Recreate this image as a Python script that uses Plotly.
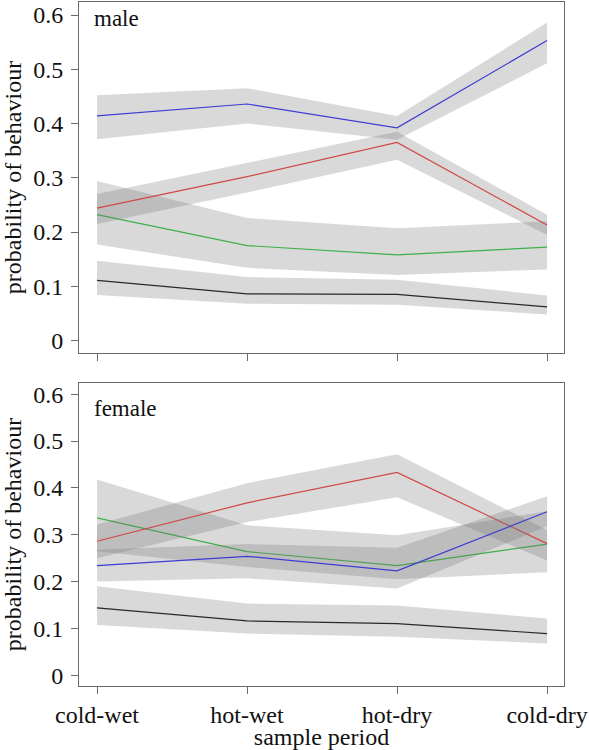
import plotly.graph_objects as go

periods = ["cold-wet", "hot-wet", "hot-dry", "cold-dry"]
y_ticks = [0, 0.1, 0.2, 0.3, 0.4, 0.5, 0.6]
y_tick_labels = ["0", "0.1", "0.2", "0.3", "0.4", "0.5", "0.6"]

# male panel
male_blue = [0.414, 0.436, 0.392, 0.553]
male_blue_hi = [0.452, 0.465, 0.414, 0.586]
male_blue_lo = [0.371, 0.400, 0.370, 0.511]
male_red = [0.244, 0.302, 0.365, 0.213]
male_red_hi = [0.270, 0.327, 0.385, 0.232]
male_red_lo = [0.215, 0.273, 0.333, 0.195]
male_green = [0.232, 0.175, 0.158, 0.172]
male_green_hi = [0.294, 0.226, 0.207, 0.220]
male_green_lo = [0.177, 0.134, 0.121, 0.131]
male_black = [0.111, 0.086, 0.085, 0.062]
male_black_hi = [0.147, 0.117, 0.112, 0.083]
male_black_lo = [0.084, 0.068, 0.066, 0.048]

# female panel
female_blue = [0.234, 0.254, 0.223, 0.349]
female_blue_hi = [0.268, 0.280, 0.272, 0.382]
female_blue_lo = [0.200, 0.207, 0.185, 0.318]
female_red = [0.286, 0.368, 0.433, 0.281]
female_red_hi = [0.322, 0.410, 0.472, 0.310]
female_red_lo = [0.250, 0.327, 0.380, 0.245]
female_green = [0.336, 0.264, 0.234, 0.280]
female_green_hi = [0.418, 0.320, 0.299, 0.350]
female_green_lo = [0.265, 0.231, 0.205, 0.220]
female_black = [0.144, 0.116, 0.110, 0.089]
female_black_hi = [0.190, 0.153, 0.149, 0.121]
female_black_lo = [0.107, 0.089, 0.082, 0.068]

colors = {"blue": "#3d3dd4", "red": "#d04848", "green": "#3eb04c", "black": "#2a2a2a"}
band_fill = "rgba(120,120,120,0.28)"

FONT = "Liberation Serif, Times New Roman, serif"
W, H = 589, 750
L, R, T, B = 79, 25, 2, 64
PW, PH = W - L - R, H - T - B

fig = go.Figure()
xi = list(range(len(periods)))


def add_series(mid, hi, lo, color, xa, ya):
    fig.add_trace(go.Scatter(
        x=xi + xi[::-1], y=hi + lo[::-1], fill="toself", fillcolor=band_fill,
        line=dict(width=0), mode="lines", hoverinfo="skip", showlegend=False,
        xaxis=xa, yaxis=ya))
    fig.add_trace(go.Scatter(
        x=xi, y=mid, mode="lines", line=dict(color=color, width=1.2),
        showlegend=False, xaxis=xa, yaxis=ya))


panels = [
    ("x", "y", [(male_black, male_black_hi, male_black_lo, "black"),
                (male_green, male_green_hi, male_green_lo, "green"),
                (male_red, male_red_hi, male_red_lo, "red"),
                (male_blue, male_blue_hi, male_blue_lo, "blue")]),
    ("x2", "y2", [(female_black, female_black_hi, female_black_lo, "black"),
                  (female_green, female_green_hi, female_green_lo, "green"),
                  (female_red, female_red_hi, female_red_lo, "red"),
                  (female_blue, female_blue_hi, female_blue_lo, "blue")]),
]
for xa, ya, series in panels:
    for mid, hi, lo, c in series:
        add_series(mid, hi, lo, colors[c], xa, ya)


def py(pix):
    return (H - B - pix) / PH


def px(pix):
    return (pix - L) / PW


top_dom = [py(353), 1.0]
bot_dom = [0.0, py(383)]
axis_col = "#6a6a6a"
tf = dict(family=FONT, size=24, color="#111")

common_x = dict(range=[-0.12, 3.113], tickvals=xi, ticks="outside", ticklen=7,
                tickcolor=axis_col, showline=True, mirror=True, linecolor=axis_col,
                linewidth=1, showgrid=False, zeroline=False, automargin=False,
                tickfont=tf, domain=[0, 1])
common_y = dict(range=[-0.023, 0.624], tickvals=y_ticks, ticktext=y_tick_labels,
                ticks="outside", ticklen=7, tickcolor=axis_col, showline=True,
                mirror=True, linecolor=axis_col, linewidth=1, showgrid=False,
                zeroline=False, ticklabelstandoff=3, automargin=False,
                tickfont=tf,
                title=dict(text="probability of behaviour", standoff=4, font=tf))

fig.update_layout(
    width=W, height=H, margin=dict(l=L, r=R, t=T, b=B, autoexpand=False),
    paper_bgcolor="white", plot_bgcolor="white", showlegend=False,
    xaxis=dict(anchor="y", ticktext=["", "", "", ""], **common_x),
    yaxis=dict(domain=top_dom, anchor="x", **common_y),
    xaxis2=dict(anchor="y2", ticktext=periods, ticklabelstandoff=0,
                title=dict(text="sample period", standoff=0, font=tf),
                **common_x),
    yaxis2=dict(domain=bot_dom, anchor="x2", **common_y),
    annotations=[
        dict(text="male", xref="paper", yref="paper", x=px(92), y=py(4),
             xanchor="left", yanchor="top", showarrow=False,
             font=dict(family=FONT, size=23, color="#111")),
        dict(text="female", xref="paper", yref="paper", x=px(92), y=py(394),
             xanchor="left", yanchor="top", showarrow=False,
             font=dict(family=FONT, size=23, color="#111")),
    ],
)

fig.write_html("out.html",
               config={"displayModeBar": False},
               post_script="document.body.style.margin='0';"
                           "document.body.style.overflow='hidden';")
